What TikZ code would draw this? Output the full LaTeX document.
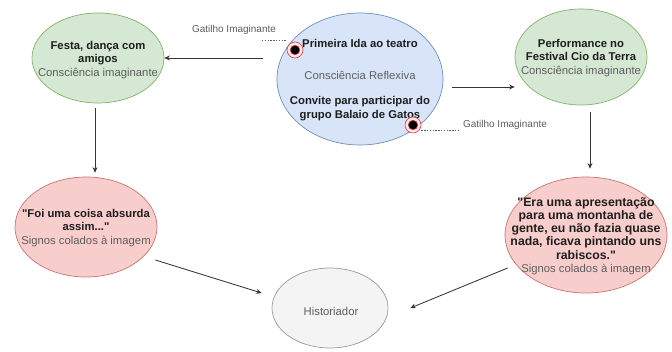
\documentclass[tikz,border=0pt]{standalone}
\usepackage{fontspec}
\setmainfont{Liberation Sans}[Ligatures=TeXOff]
\usetikzlibrary{arrows.meta,shapes.geometric}
\definecolor{ink}{HTML}{1E1E1E}
\definecolor{mut}{HTML}{5E5E5E}
\definecolor{imf}{HTML}{D5E8D4}
\definecolor{imd}{HTML}{82B366}
\definecolor{rff}{HTML}{D8E5F8}
\definecolor{rfd}{HTML}{6C8EBF}
\definecolor{sgf}{HTML}{F8CECC}
\definecolor{sgd}{HTML}{C77471}
\definecolor{hsf}{HTML}{F4F4F4}
\definecolor{hsd}{HTML}{9A9A9A}
\definecolor{trg}{HTML}{E0343A}
\tikzset{
  bub/.style ={ellipse,line width=.7pt,inner sep=0pt},
  im/.style  ={bub,draw=imd,fill=imf},
  rf/.style  ={bub,draw=rfd,fill=rff},
  sg/.style  ={bub,draw=sgd,fill=sgf},
  hs/.style  ={bub,draw=hsd,fill=hsf},
  txt/.style ={align=center,inner sep=0pt,font=\fontsize{11.3}{13.2}\selectfont\bfseries,text=ink},
  glbl/.style={font=\fontsize{10}{12}\selectfont,text=mut},
  a/.style   ={-{Stealth[length=5.5pt,width=5pt]},line width=.85pt,ink!90},
  dl/.style  ={dash pattern=on 1.4pt off 1.4pt,line width=.7pt,mut},
  tring/.style={circle,draw=trg,fill=trg!12,line width=.6pt,minimum size=16pt,inner sep=0pt},
  tdot/.style ={circle,fill=black,draw=trg,line width=.5pt,minimum size=9.5pt,inner sep=0pt},
}
\newcommand{\cns}[1]{{\fontsize{11.3}{13.2}\selectfont\mdseries\color{mut}#1}}

\begin{document}
\begin{tikzpicture}[x=1pt,y=-1pt]
\useasboundingbox (0,0) rectangle (672,352);
% bubbles
\node[rf,minimum width=166pt,minimum height=132pt] (refl) at (360,79) {};
\node[im,minimum width=132pt,minimum height=90pt] (fest) at (98,58) {};
\node[im,minimum width=132pt,minimum height=96pt] (perf) at (581,57) {};
\node[sg,minimum width=142pt,minimum height=100pt] (sayA) at (86,227) {};
\node[sg,minimum width=162pt,minimum height=116pt] (sayB) at (586,235) {};
\node[hs,minimum width=116pt,minimum height=80pt] (hist) at (330,308) {};
% texts
\node[txt] (reflT) at (360,80) {Primeira Ida ao teatro\\[18.5pt]\cns{Consciência Reflexiva}\\[12.5pt]Convite para participar do\\grupo Balaio de Gatos};
\node[txt] (festT) at (98,60) {Festa, dança com\\amigos\\\cns{Consciência imaginante}};
\node[txt] (perfT) at (581,58) {Performance no\\Festival Cio da Terra\\\cns{Consciência imaginante}};
\node[txt] (sayAT) at (86,228) {"Foi uma coisa absurda\\assim..."\\\cns{Signos colados à imagem}};
\node[txt,font=\fontsize{12.3}{13.3}\selectfont\bfseries] (sayBT) at (586,236) {"Era uma apresentação\\para uma montanha de\\gente, eu não fazia quase\\nada, ficava pintando uns\\rabiscos."\\\cns{Signos colados à imagem}};
\node[txt] (histT) at (331,311) {\cns{Historiador}};
% connectors
\draw[a] ([xshift=-14pt,yshift=21pt]refl.west) -- (fest.east);
\draw[a] ([xshift=9pt,yshift=-8pt]refl.east) -- ([yshift=-30pt]perf.west);
\draw[a,shorten <=5pt,shorten >=4pt] ([xshift=-3pt]fest.south) -- ([xshift=-3pt]fest.south |- sayA.north);
\draw[a,shorten <=7pt,shorten >=8pt] ([xshift=9pt]perf.south) -- ([xshift=9pt]perf.south |- sayB.north);
\draw[a] ([xshift=-2pt,yshift=-33pt]sayA.east) -- ([xshift=-10pt,yshift=15pt]hist.west);
\draw[a] ([xshift=3pt,yshift=-33pt]sayB.west) -- ([xshift=22pt]hist.east);
% triggers
\node[tring] (ring1) at (295,50) {};
\node[tdot] (dot1) at (ring1) {};
\node[tring] (ring2) at (413,125) {};
\node[tdot] (dot2) at (ring2) {};
\node[glbl] (gat1) at (234,30) {Gatilho Imaginante};
\node[glbl] (gat2) at (505,125) {Gatilho Imaginante};
\coordinate (e1) at (262,40);
\coordinate (e2) at (458,130);
\draw[dl] (e1) -- (e1 -| ring1.west);
\draw[dl] (ring2.east |- e2) -- (e2);
\end{tikzpicture}
\end{document}
